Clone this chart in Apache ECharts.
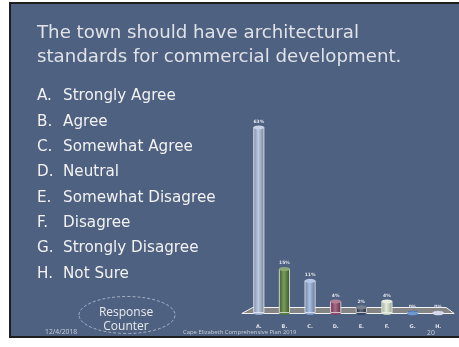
<!DOCTYPE html>
<html><head><meta charset="utf-8">
<script src="https://cdn.jsdelivr.net/npm/echarts@6/dist/echarts.min.js"></script>
<style>html,body{margin:0;padding:0;background:#fff}#c{width:459px;height:347px}</style>
</head><body><div id="c"></div>
<script>
const categories = ['A.', 'B.', 'C.', 'D.', 'E.', 'F.', 'G.', 'H.'];
const values = [63, 15, 11, 4, 2, 4, 0, 0];
const barColors = ['#a7b9d8', '#4e7a2a', '#8ea9d8', '#8a3c60', '#2c3b52', '#d8e4cc', '#2060b0', '#c4c4e4'];
const answers = ['Strongly Agree', 'Agree', 'Somewhat Agree', 'Neutral', 'Somewhat Disagree', 'Disagree', 'Strongly Disagree', 'Not Sure'];
const titleLines = ['The town should have architectural', 'standards for commercial development.'];
const footerDate = '12/4/2018';
const footerName = 'Cape Elizabeth Comprehensive Plan 2019';
const footerPage = '20';

function shade(hex, f) {
  const n = parseInt(hex.slice(1), 16);
  let r = (n >> 16) & 255, g = (n >> 8) & 255, b = n & 255;
  const m = c => Math.max(0, Math.min(255, Math.round(f >= 0 ? c + (255 - c) * f : c * (1 + f))));
  return 'rgb(' + m(r) + ',' + m(g) + ',' + m(b) + ')';
}
function cyl(hex) {
  return new echarts.graphic.LinearGradient(0, 0, 1, 0, [
    { offset: 0, color: shade(hex, -0.25) },
    { offset: 0.45, color: shade(hex, 0.25) },
    { offset: 1, color: shade(hex, -0.3) }
  ]);
}

const chart = echarts.init(document.getElementById('c'), null, { renderer: 'canvas' });
const BG = '#4f6181';
const TXT = '#dfe2e8';

const graphics = [
  { type: 'rect', z: -10, shape: { x: 10, y: 3, width: 460, height: 334 }, style: { fill: BG, stroke: '#1e1e1e', lineWidth: 2 } }
];
titleLines.forEach((t, i) => graphics.push({
  type: 'text', z: 5, style: { text: t, x: 37, y: 33 + i * 24, fill: TXT, font: '18.2px "DejaVu Sans"', verticalAlign: 'middle' }
}));
answers.forEach((t, i) => {
  graphics.push({ type: 'text', z: 5, style: { text: categories[i], x: 37, y: 96.5 + i * 25.3, fill: '#f2f2f2', font: '15.2px "DejaVu Sans"', verticalAlign: 'middle' } });
  graphics.push({ type: 'text', z: 5, style: { text: t, x: 63, y: 96.5 + i * 25.3, fill: '#f2f2f2', font: '15.2px "DejaVu Sans"', verticalAlign: 'middle' } });
});
graphics.push(
  { type: 'ellipse', z: 5, shape: { cx: 127, cy: 315, rx: 48, ry: 18.5 }, style: { fill: 'none', stroke: '#b8c2d2', lineWidth: 0.8, lineDash: [3, 2] } },
  { type: 'text', z: 5, style: { text: 'Response', x: 126, y: 313, fill: '#e8eaee', font: '12px "Open Sans"', align: 'center', verticalAlign: 'middle' } },
  { type: 'text', z: 5, style: { text: 'Counter', x: 126, y: 327, fill: '#e8eaee', font: '12px "Open Sans"', align: 'center', verticalAlign: 'middle' } },
  { type: 'text', z: 5, style: { text: footerDate, x: 45, y: 332, fill: '#c9d0db', font: '6.8px "Open Sans"', verticalAlign: 'middle' } },
  { type: 'text', z: 5, style: { text: footerName, x: 183, y: 332.5, fill: '#c9d0db', font: '5.9px "Open Sans"', verticalAlign: 'middle' } },
  { type: 'text', z: 5, style: { text: footerPage, x: 427, y: 333, fill: '#c9d0db', font: '6.8px "Open Sans"', verticalAlign: 'middle' } }
);

const gridLeft = 246, gridRight = 8, gridBottom = 34, gridTop = 106.5;

chart.setOption({
  animation: false,
  backgroundColor: '#ffffff',
  grid: { left: gridLeft, right: gridRight, top: gridTop, bottom: gridBottom },
  xAxis: {
    type: 'category', data: categories,
    axisLine: { show: false }, axisTick: { show: false },
    axisLabel: { color: '#dfe3ea', fontSize: 5, fontWeight: 'bold', fontFamily: 'DejaVu Sans', margin: 11 }
  },
  yAxis: { type: 'value', min: 0, max: 70, show: false, splitLine: { show: false } },
  series: [
    {
      type: 'bar', data: values.map((v, i) => ({ value: v, itemStyle: { color: cyl(barColors[i]) } })),
      barWidth: 11, z: 3,
      itemStyle: { borderColor: '#eef0f4', borderWidth: 0.8 },
      label: { show: true, position: 'top', distance: 3, formatter: '{c}%', color: '#e2e6ec', fontSize: 4.5, fontWeight: 'bold', fontFamily: 'DejaVu Sans' }
    },
    {
      type: 'pictorialBar', data: values.map((v, i) => ({ value: v, itemStyle: { color: shade(barColors[i], 0.35) } })),
      symbol: 'circle', symbolSize: [11, 4], symbolPosition: 'end', symbolOffset: [0, '-50%'], z: 4,
      itemStyle: { borderColor: '#eef0f4', borderWidth: 0.8 }, silent: true
    },
    {
      type: 'pictorialBar', data: values.map((v, i) => ({ value: v, itemStyle: { color: barColors[i] } })),
      symbol: 'circle', symbolSize: [11, 4], symbolPosition: 'start', symbolOffset: [0, '50%'], z: 2,
      itemStyle: { borderColor: '#eef0f4', borderWidth: 0.8 }, silent: true
    }
  ]
});

// floor under the bars, placed from the axis scale
const y0 = chart.convertToPixel({ yAxisIndex: 0 }, 0);
const xa = chart.convertToPixel({ xAxisIndex: 0 }, 0);
const xh = chart.convertToPixel({ xAxisIndex: 0 }, categories.length - 1);
chart.setOption({
  graphic: graphics.concat([{
    type: 'polygon', z: 1,
    shape: { points: [[xa - 6, y0 - 5.5], [xh + 8, y0 - 5.5], [xh + 16, y0 + 0.5], [xa - 17, y0 + 0.5]] },
    style: { fill: '#858585', stroke: '#f4f4f4', lineWidth: 1 }
  }])
});
</script>
</body></html>
